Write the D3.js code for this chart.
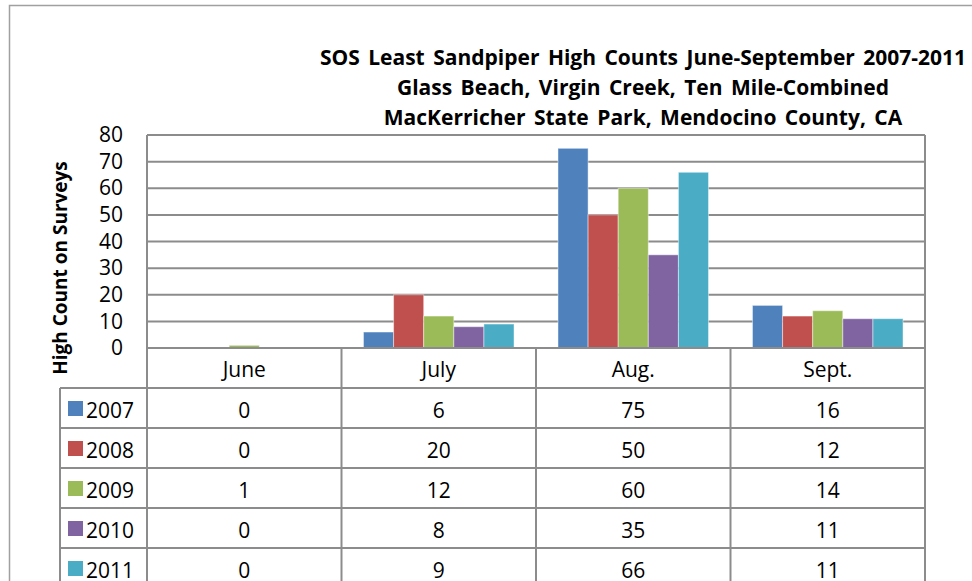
<!DOCTYPE html>
<html>
<head>
<meta charset="utf-8">
<script src="https://cdn.jsdelivr.net/npm/d3@7"></script>
<style>
  body { margin: 0; background: #fff; }
  text { font-family: "Open Sans", Lato, sans-serif; fill: #000; }
</style>
</head>
<body>
<div id="chart"></div>
<script>
var svgWidth = 972;
var svgHeight = 581;

var months = ["June", "July", "Aug.", "Sept."];
var years = ["2007", "2008", "2009", "2010", "2011"];
var colors = ["#4F81BD", "#C0504D", "#9BBB59", "#8064A2", "#4BACC6"];
var counts2007 = [0, 6, 75, 16];
var counts2008 = [0, 20, 50, 12];
var counts2009 = [1, 12, 60, 14];
var counts2010 = [0, 8, 35, 11];
var counts2011 = [0, 9, 66, 11];
var yTicks = [0, 10, 20, 30, 40, 50, 60, 70, 80];
var titleLines = [
    "SOS Least Sandpiper High Counts June-September 2007-2011",
    "Glass Beach, Virgin Creek, Ten Mile-Combined",
    "MacKerricher State Park, Mendocino County, CA"
];

var series = [counts2007, counts2008, counts2009, counts2010, counts2011];

var plot = { left: 147, right: 925, top: 135, bottom: 348 };
var rowH = 40;
var legendLeft = 60;
var gridColor = "#8c8c8c";
var fontSize = 21;

var svg = d3.select("#chart")
    .append("svg")
    .attr("width", svgWidth)
    .attr("height", svgHeight);

// outer chart border
svg.append("rect")
    .attr("x", 9.5).attr("y", 5.5)
    .attr("width", 1000).attr("height", 700)
    .attr("fill", "none")
    .attr("stroke", "#a0a0a0")
    .attr("stroke-width", 1.5);

// scales
var x0 = d3.scaleBand()
    .domain(months)
    .range([plot.left, plot.right]);

var x1 = d3.scaleBand()
    .domain(years)
    .range([0, x0.bandwidth()])
    .paddingOuter(0.73);

var y = d3.scaleLinear()
    .domain([0, 80])
    .range([plot.bottom, plot.top]);

// gridlines
svg.append("g")
    .selectAll("line")
    .data(yTicks.slice(1))
    .enter()
    .append("line")
    .attr("x1", plot.left)
    .attr("x2", plot.right)
    .attr("y1", d => y(d))
    .attr("y2", d => y(d))
    .attr("stroke", gridColor)
    .attr("stroke-width", 2);

// y axis tick labels
var leftAxis = d3.axisLeft(y).tickValues(yTicks).tickSize(0).tickPadding(24);
var yAxis = svg.append("g")
    .attr("transform", `translate(${plot.left}, 0)`)
    .call(leftAxis);
yAxis.select(".domain").remove();
yAxis.selectAll("text")
    .attr("font-size", fontSize)
    .attr("font-family", "'Open Sans', sans-serif")
    .attr("fill", "#000");

// bars
var groups = svg.append("g")
    .selectAll("g")
    .data(years)
    .enter()
    .append("g")
    .attr("fill", (d, i) => colors[i]);

groups.selectAll("rect")
    .data((yr, i) => months.map((m, j) => ({ month: m, year: yr, value: series[i][j] })))
    .enter()
    .append("rect")
    .attr("x", d => x0(d.month) + x1(d.year))
    .attr("y", d => y(d.value))
    .attr("width", x1.bandwidth())
    .attr("height", d => y(0) - y(d.value))
    .attr("stroke", "rgba(255,255,255,0.45)")
    .attr("stroke-width", 1);

// data table lines
var table = svg.append("g")
    .attr("stroke", gridColor)
    .attr("stroke-width", 2);

var tableBottom = plot.bottom + rowH * (years.length + 1);

// axis line / header top
table.append("line")
    .attr("x1", plot.left).attr("x2", plot.right)
    .attr("y1", plot.bottom).attr("y2", plot.bottom);

// row lines
table.selectAll("line.row")
    .data(d3.range(1, years.length + 1))
    .enter()
    .append("line")
    .attr("class", "row")
    .attr("x1", legendLeft).attr("x2", plot.right)
    .attr("y1", d => plot.bottom + d * rowH)
    .attr("y2", d => plot.bottom + d * rowH);

// vertical lines
table.append("line")
    .attr("x1", plot.left).attr("x2", plot.left)
    .attr("y1", plot.top).attr("y2", tableBottom);
table.append("line")
    .attr("x1", plot.right).attr("x2", plot.right)
    .attr("y1", plot.top).attr("y2", tableBottom);
table.append("line")
    .attr("x1", legendLeft).attr("x2", legendLeft)
    .attr("y1", plot.bottom + rowH).attr("y2", tableBottom);
table.selectAll("line.col")
    .data(months.slice(1))
    .enter()
    .append("line")
    .attr("class", "col")
    .attr("x1", d => x0(d)).attr("x2", d => x0(d))
    .attr("y1", plot.bottom).attr("y2", tableBottom);

// header labels
svg.append("g")
    .selectAll("text")
    .data(months)
    .enter()
    .append("text")
    .attr("x", d => x0(d) + x0.bandwidth() / 2)
    .attr("y", plot.bottom + 29)
    .attr("text-anchor", "middle")
    .attr("font-size", fontSize)
    .text(d => d);

// legend keys + values (last row runs off the bottom, as in the original)
years.forEach(function (yr, i) {
    var rowTop = plot.bottom + rowH * (i + 1);
    svg.append("rect")
        .attr("x", 68)
        .attr("y", rowTop + 13)
        .attr("width", 15)
        .attr("height", 15)
        .attr("fill", colors[i]);
    svg.append("text")
        .attr("x", 86)
        .attr("y", rowTop + 30)
        .attr("font-size", fontSize)
        .text(yr);
    svg.append("g")
        .selectAll("text")
        .data(series[i])
        .enter()
        .append("text")
        .attr("x", (d, j) => x0(months[j]) + x0.bandwidth() / 2)
        .attr("y", rowTop + 30)
        .attr("text-anchor", "middle")
        .attr("font-size", fontSize)
        .text(d => d);
});

// title
svg.append("g")
    .selectAll("text")
    .data(titleLines)
    .enter()
    .append("text")
    .attr("x", 643)
    .attr("y", (d, i) => 65 + i * 30)
    .attr("text-anchor", "middle")
    .attr("font-size", 21)
    .attr("font-weight", "bold")
    .attr("word-spacing", 3)
    .text(d => d);

// y axis title
svg.append("text")
    .attr("transform", "translate(67, 268) rotate(-90)")
    .attr("text-anchor", "middle")
    .attr("font-size", 19)
    .attr("font-weight", "bold")
    .text("High Count on Surveys");
</script>
</body>
</html>
